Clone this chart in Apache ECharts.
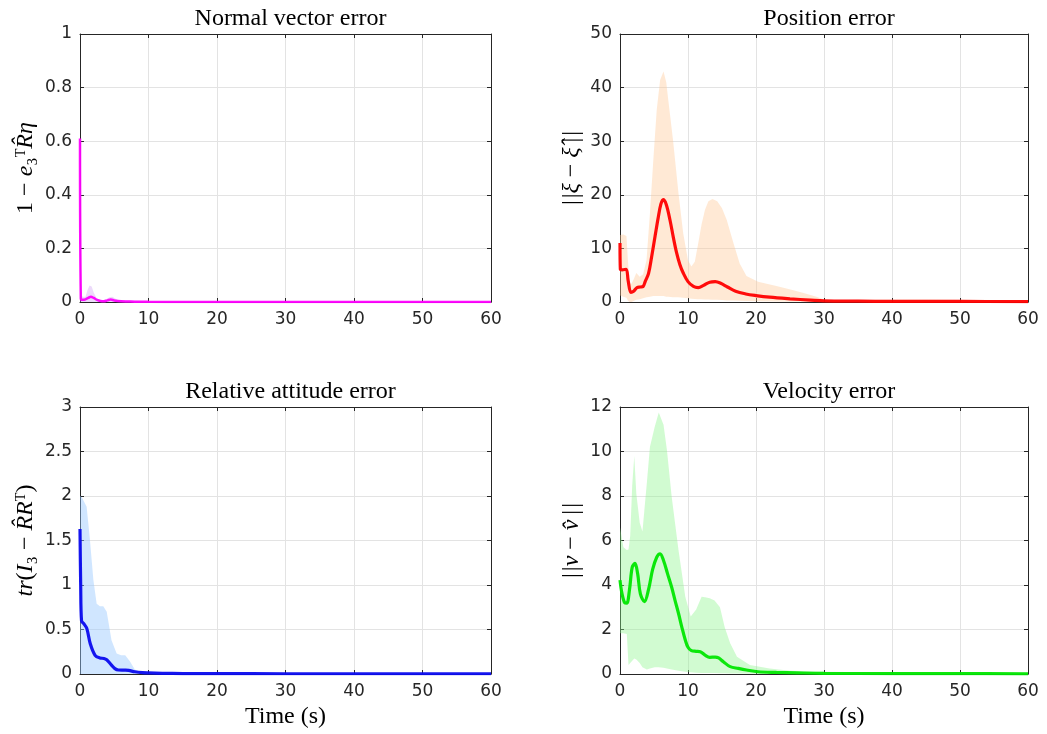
<!DOCTYPE html>
<html><head><meta charset="utf-8">
<script src="https://cdn.jsdelivr.net/npm/echarts@6/dist/echarts.min.js"></script>
<style>html,body{margin:0;padding:0;background:#fff}#c{width:1047px;height:734px}</style>
</head><body><div id="c"></div>
<script>
// ---------------- Data ----------------
// Normal vector error (top-left)
const normMeanT = [0, 0.12, 0.4, 0.8, 1.2, 1.6, 2.0, 2.5, 3.0, 3.5, 4.0, 4.5, 5.0, 6, 7, 8, 10, 15, 20, 30, 40, 50, 60];
const normMean  = [0.61, 0.012, 0.008, 0.01, 0.015, 0.02, 0.015, 0.008, 0.004, 0.003, 0.006, 0.009, 0.006, 0.003, 0.002, 0.001, 0.0005, 0.0003, 0.0002, 0.0001, 0.0001, 0.0001, 0.0001];
const normBandT = [0, 0.12, 0.4, 0.8, 1.1, 1.4, 1.7, 2.0, 2.4, 2.8, 3.3, 3.8, 4.3, 4.7, 5.2, 5.8, 7, 8.5, 10, 60];
const normHi    = [0.61, 0.03, 0.02, 0.02, 0.045, 0.062, 0.058, 0.035, 0.015, 0.008, 0.006, 0.01, 0.018, 0.02, 0.012, 0.006, 0.006, 0.005, 0.002, 0.001];
const normLo    = [0, 0, 0, 0, 0, 0, 0, 0, 0, 0, 0, 0, 0, 0, 0, 0, 0, 0, 0, 0];

// Position error (top-right)
const posMeanT = [0, 0.05, 0.3, 0.9, 1.2, 1.6, 2.0, 2.5, 3.0, 3.4, 3.7, 4.2, 4.66, 5.15, 5.6, 6.0, 6.35, 6.8, 7.35, 7.85, 8.3, 8.8, 9.3, 10.0, 10.8, 11.5, 12.3, 13.2, 14.0, 14.8, 15.8, 17.0, 18.5, 20, 22, 25, 28, 30, 35, 40, 50, 60];
const posMean  = [11.0, 6.1, 6.0, 6.1, 4.0, 1.8, 2.0, 2.7, 2.8, 2.9, 3.8, 5.35, 8.5, 12.2, 15.6, 18.2, 19.1, 18.2, 15.3, 12.0, 9.3, 7.0, 5.4, 3.8, 2.9, 2.7, 3.1, 3.7, 3.8, 3.5, 2.8, 2.0, 1.5, 1.2, 0.9, 0.6, 0.35, 0.2, 0.15, 0.12, 0.1, 0.08];
const posBandT = [0, 0.5, 0.95, 1.15, 1.4, 1.7, 2.0, 2.4, 2.9, 3.4, 3.9, 4.4, 4.9, 5.4, 5.9, 6.4, 6.8, 7.1, 7.8, 8.6, 9.3, 10.0, 10.5, 11.0, 11.5, 12.0, 12.5, 13.0, 13.6, 14.3, 15.0, 15.7, 16.7, 17.6, 18.6, 20.3, 23, 25.5, 27, 28.9, 30.4, 35, 45, 55, 60];
const posHi    = [12.5, 12.6, 12.3, 8.0, 3.5, 3.4, 4.2, 5.4, 4.7, 5.2, 7.8, 16.5, 26.5, 35.8, 41.4, 43.0, 41.0, 37.7, 30.2, 20.3, 12.8, 7.8, 6.6, 7.5, 10.9, 14.5, 17.2, 18.8, 19.2, 18.8, 17.5, 15.3, 10.9, 7.2, 4.85, 3.8, 3.0, 2.2, 1.7, 1.0, 0.3, 0.4, 0.45, 0.35, 0.3];
const posLo    = [1.2, 1.0, 0.8, 0.3, 0.0, 0.0, 0.2, 0.4, 0.5, 0.7, 0.9, 1.0, 1.1, 1.1, 1.1, 1.1, 1.0, 1.0, 0.9, 0.9, 0.8, 0.7, 0.6, 0.55, 0.5, 0.5, 0.45, 0.45, 0.4, 0.4, 0.35, 0.3, 0.3, 0.25, 0.2, 0.15, 0.1, 0.05, 0.03, 0.02, 0, 0, 0, 0, 0];

// Relative attitude error (bottom-left)
const attMeanT = [0, 0.1, 0.22, 0.6, 1.0, 1.5, 2.2, 2.9, 3.5, 3.9, 4.6, 5.1, 5.6, 6.5, 7.1, 8, 9.1, 10, 12, 15, 20, 30, 40, 50, 60];
const attMean  = [1.63, 1.0, 0.6, 0.56, 0.51, 0.34, 0.21, 0.18, 0.175, 0.16, 0.1, 0.06, 0.045, 0.043, 0.04, 0.025, 0.015, 0.012, 0.008, 0.005, 0.004, 0.003, 0.003, 0.003, 0.003];
const attBandT = [0, 0.24, 0.97, 1.46, 1.95, 2.43, 2.9, 3.4, 3.9, 4.6, 5.35, 6.0, 6.6, 7.3, 8.0, 9.0, 10, 15, 20, 60];
const attHi    = [2.0, 1.99, 1.88, 1.5, 1.06, 0.79, 0.76, 0.76, 0.70, 0.38, 0.23, 0.21, 0.21, 0.14, 0.05, 0.02, 0.015, 0.01, 0.008, 0.005];
const attLo    = [0, 0, 0, 0, 0, 0, 0, 0, 0, 0, 0, 0, 0, 0, 0, 0, 0, 0, 0, 0];

// Velocity error (bottom-right)
const velMeanT = [0, 0.3, 0.7, 1.0, 1.4, 1.8, 2.2, 2.6, 3.0, 3.6, 4.2, 4.8, 5.4, 5.9, 6.4, 7.0, 7.6, 8.1, 8.6, 9.1, 9.6, 10.0, 10.5, 11.2, 11.8, 12.5, 13.2, 14.0, 14.5, 15.2, 16.2, 17.4, 18.6, 20.3, 23, 26, 30, 40, 50, 60];
const velMean  = [4.22, 3.6, 3.2, 3.18, 3.8, 4.8, 4.97, 4.5, 3.6, 3.25, 3.8, 4.7, 5.25, 5.4, 5.1, 4.5, 3.9, 3.3, 2.73, 2.1, 1.53, 1.2, 1.05, 1.02, 1.0, 0.85, 0.75, 0.76, 0.72, 0.55, 0.33, 0.25, 0.18, 0.1, 0.07, 0.05, 0.03, 0.02, 0.015, 0.01];
const velBandT = [0, 0.5, 1.0, 1.25, 1.5, 1.8, 2.1, 2.4, 2.9, 3.3, 3.95, 4.4, 5.1, 5.7, 6.4, 6.9, 7.6, 8.6, 9.6, 10.4, 11.2, 12.0, 12.5, 13.2, 13.9, 14.7, 15.4, 16.2, 17.2, 19.1, 22, 25, 30, 40, 50, 60];
const velHi    = [6.6, 5.7, 5.57, 5.6, 6.2, 8.5, 9.8, 8.1, 6.8, 6.4, 8.6, 10.2, 11.1, 11.75, 11.2, 10.07, 7.97, 5.57, 3.47, 2.58, 2.9, 3.47, 3.45, 3.4, 3.3, 3.0, 2.1, 1.38, 0.78, 0.4, 0.25, 0.15, 0.1, 0.07, 0.05, 0.05];
const velLo    = [1.83, 1.83, 1.8, 0.4, 0.5, 0.6, 0.7, 0.65, 0.5, 0.3, 0.2, 0.25, 0.3, 0.3, 0.28, 0.25, 0.2, 0.15, 0.1, 0.08, 0.06, 0.05, 0.05, 0.04, 0.04, 0.03, 0.03, 0.02, 0.02, 0.01, 0, 0, 0, 0, 0, 0];

// Axes ticks
const timeTicks = [0, 10, 20, 30, 40, 50, 60];
const normTicks = [0, 0.2, 0.4, 0.6, 0.8, 1];
const posTicks  = [0, 10, 20, 30, 40, 50];
const attTicks  = [0, 0.5, 1, 1.5, 2, 2.5, 3];
const velTicks  = [0, 2, 4, 6, 8, 10, 12];

const titles = ['Normal vector error', 'Position error', 'Relative attitude error', 'Velocity error'];
const xName = 'Time (s)';

// ---------------- Chart ----------------
const chart = echarts.init(document.getElementById('c'), null, {renderer: 'canvas'});

const grids = [
  {left: 80, top: 34, width: 411, height: 268},
  {left: 620, top: 34, width: 408, height: 268},
  {left: 80, top: 407, width: 411, height: 267},
  {left: 620, top: 407, width: 408, height: 267}
];
const yTicksAll = [normTicks, posTicks, attTicks, velTicks];
const AX = '#262626';
const tickFont = {fontFamily: 'DejaVu Sans', fontSize: 17, color: AX};
const serif = 'Liberation Serif';
const rich = {
  r: {fontFamily: serif, fontSize: 24, color: '#000'},
  i: {fontFamily: serif, fontSize: 24, fontStyle: 'italic', color: '#000'}
};
const yNames = [
  '{r|1 − }{i|e}{r|₃ᵀ}{i|R̂η}',
  '{r||\u200A|}{i|ξ}{r| − }{i|ξ̂}{r|\u2009|\u200A|}',
  '{i|tr}{r|(}{i|I}{r|₃ − }{i|R̂R}{r|ᵀ)}',
  '{r||\u200A|}{i|v}{r| − }{i|v̂}{r|\u2009|\u200A|}'
];
const yGaps = [42, 36, 42, 36];

const xAxes = [], yAxes = [];
for (let g = 0; g < 4; g++) {
  const yt = yTicksAll[g];
  const ymin = yt[0], ymax = yt[yt.length - 1], yint = yt[1] - yt[0];
  xAxes.push({
    type: 'value', gridIndex: g, position: 'bottom',
    min: timeTicks[0], max: timeTicks[timeTicks.length - 1], interval: timeTicks[1] - timeTicks[0],
    axisLine: {show: true, onZero: false, lineStyle: {color: AX, width: 1}},
    axisTick: {show: true, inside: true, length: 4, lineStyle: {color: AX}},
    axisLabel: Object.assign({margin: 9}, tickFont),
    splitLine: {show: true, lineStyle: {color: '#e3e3e3', width: 1}},
    name: g >= 2 ? xName : '', nameLocation: 'middle', nameGap: 31,
    nameTextStyle: {fontFamily: serif, fontSize: 24, color: '#000'}
  });
  yAxes.push({
    type: 'value', gridIndex: g, position: 'left',
    min: ymin, max: ymax, interval: yint,
    axisLine: {show: true, onZero: false, lineStyle: {color: AX, width: 1}},
    axisTick: {show: true, inside: true, length: 4, lineStyle: {color: AX}},
    axisLabel: Object.assign({margin: 8}, tickFont),
    splitLine: {show: true, lineStyle: {color: '#e3e3e3', width: 1}},
    name: yNames[g], nameLocation: 'middle', nameGap: yGaps[g], nameRotate: 90,
    nameTextStyle: {rich: rich}
  });
}
for (let g = 0; g < 4; g++) {
  const yt = yTicksAll[g];
  xAxes.push({
    type: 'value', gridIndex: g, position: 'top',
    min: timeTicks[0], max: timeTicks[timeTicks.length - 1], interval: timeTicks[1] - timeTicks[0],
    axisLine: {show: true, onZero: false, lineStyle: {color: AX, width: 1}},
    axisTick: {show: true, inside: true, length: 4, lineStyle: {color: AX}},
    axisLabel: {show: false}, splitLine: {show: false}
  });
  yAxes.push({
    type: 'value', gridIndex: g, position: 'right',
    min: yt[0], max: yt[yt.length - 1], interval: yt[1] - yt[0],
    axisLine: {show: true, onZero: false, lineStyle: {color: AX, width: 1}},
    axisTick: {show: true, inside: true, length: 4, lineStyle: {color: AX}},
    axisLabel: {show: false}, splitLine: {show: false}
  });
}

function bandSeries(idx, T, lo, hi, color) {
  const data = T.map((t, i) => [t, lo[i], hi[i]]);
  return {
    type: 'custom', xAxisIndex: idx, yAxisIndex: idx, data: data, silent: true, z: 1,
    encode: {x: 0, y: [1, 2]},
    renderItem: function (params, api) {
      if (params.dataIndex !== 0) return {type: 'group', children: []};
      const pts = [];
      for (let i = 0; i < data.length; i++) pts.push(api.coord([data[i][0], data[i][2]]));
      for (let i = data.length - 1; i >= 0; i--) pts.push(api.coord([data[i][0], data[i][1]]));
      return {type: 'polygon', shape: {points: pts}, style: {fill: color}};
    }
  };
}
function meanSeries(idx, T, V, color, width) {
  return {
    type: 'line', xAxisIndex: idx, yAxisIndex: idx,
    data: T.map((t, i) => [t, V[i]]),
    showSymbol: false, symbol: 'none', smooth: 0.35,
    lineStyle: {color: color, width: width, opacity: 0.95}, z: 3, silent: true, clip: true
  };
}

const series = [
  bandSeries(0, normBandT, normLo, normHi, 'rgba(200,150,240,0.35)'),
  meanSeries(0, normMeanT, normMean, '#ff00ff', 2.5),
  bandSeries(1, posBandT, posLo, posHi, 'rgba(255,200,150,0.40)'),
  meanSeries(1, posMeanT, posMean, '#ff0000', 3.2),
  bandSeries(2, attBandT, attLo, attHi, 'rgba(150,200,255,0.45)'),
  meanSeries(2, attMeanT, attMean, '#0a0aee', 3.2),
  bandSeries(3, velBandT, velLo, velHi, 'rgba(140,245,140,0.40)'),
  meanSeries(3, velMeanT, velMean, '#00e600', 3.2)
];

const centers = [285.5, 824, 285.5, 824];
const titleTops = [2, 2, 375, 375];
const title = titles.map((t, g) => ({
  text: t, left: centers[g], top: titleTops[g], textAlign: 'center',
  textStyle: {fontFamily: serif, fontSize: 24, fontWeight: 'normal', color: '#000'}
}));

chart.setOption({
  backgroundColor: '#fff',
  animation: false,
  title: title,
  grid: grids,
  xAxis: xAxes,
  yAxis: yAxes,
  series: series
});
</script>
</body></html>
